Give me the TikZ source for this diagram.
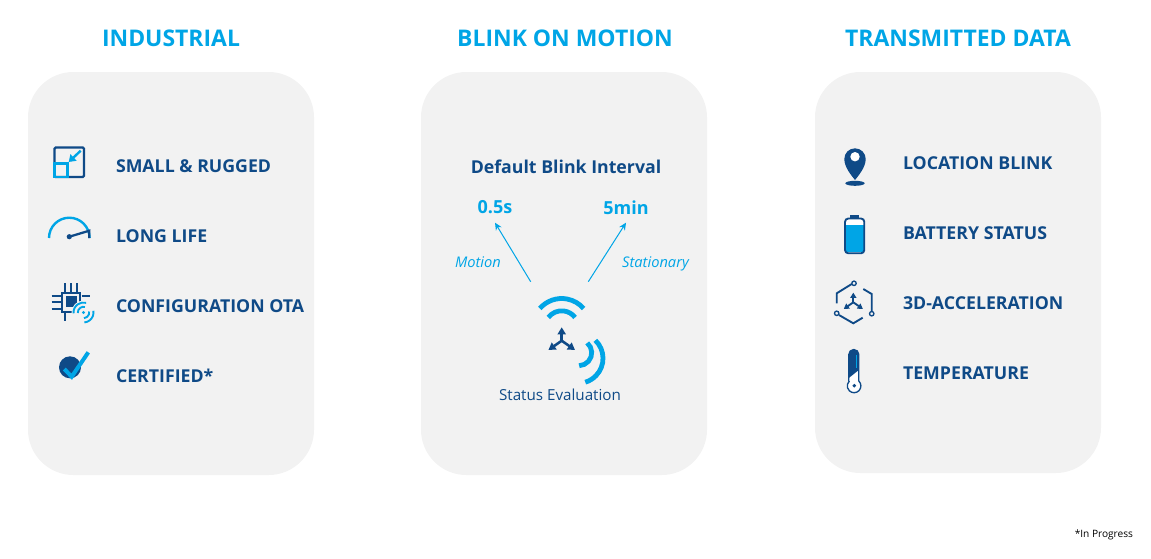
\documentclass[tikz,border=0pt]{standalone}
\usepackage{fontspec}
\setmainfont{Open Sans}
\usetikzlibrary{arrows.meta}
\definecolor{skyblue}{RGB}{0,165,230}
\definecolor{navyblue}{RGB}{15,74,135}
\definecolor{panelgrey}{RGB}{242,242,242}
\tikzset{every picture/.style={line width=0.75pt}}
\tikzset{
  panelbox/.style={fill=panelgrey,rounded corners=34pt},
  titlelabel/.style={text=skyblue,font=\bfseries\fontsize{17.2}{20}\selectfont,inner sep=0pt},
  itemlabel/.style={text=navyblue,anchor=base west,font=\bfseries\fontsize{13.3}{16}\selectfont,inner sep=0pt},
  ratelabel/.style={text=skyblue,font=\bfseries\fontsize{13.5}{16}\selectfont,inner sep=0pt,minimum height=22pt},
  modelabel/.style={text=skyblue,anchor=base,font=\itshape\fontsize{11}{14}\selectfont,inner sep=0pt},
  navyline/.style={draw=navyblue,line width=1.7pt},
  skyline/.style={draw=skyblue,line width=1.8pt},
  wave/.style={draw=skyblue,line width=3.6pt},
  triarrow/.pic={
    \draw [navyblue,-{Stealth[inset=0pt,length=0pt 2.8 0,width=0pt 3.2 0]}] (0,0) -- (0,13.4);
    \draw [navyblue,-{Stealth[inset=0pt,length=0pt 2.8 0,width=0pt 3.2 0]}] (0,0) -- (-13.3,-9.3);
    \draw [navyblue,-{Stealth[inset=0pt,length=0pt 2.8 0,width=0pt 3.2 0]}] (0,0) -- (13.3,-9.3);
  }
}
\begin{document}
\begin{tikzpicture}[x=0.75pt,y=0.75pt,yscale=-1,xscale=1]
\useasboundingbox (0,0) rectangle (1151,558);

% Panels
\fill [panelbox] (28,72) rectangle (314,475);
\fill [panelbox] (421,72) rectangle (707,475);
\fill [panelbox] (815,72) rectangle (1101,473);

% Text Node
\node [titlelabel] (industrial) at (171,38.5) {INDUSTRIAL};
\node [titlelabel] (blink) at (565,38.5) {BLINK ON MOTION};
\node [titlelabel] (transmitted) at (958,38.5) {TRANSMITTED DATA};
% Text Node
\node [itemlabel] (rugged) at (115.5,172.5) {SMALL \& RUGGED};
\node [itemlabel] (life) at (115.5,242.5) {LONG LIFE};
\node [itemlabel] (config) at (115.5,312.5) {CONFIGURATION OTA};
\node [itemlabel] (certified) at (115.5,382.5) {CERTIFIED*};
% Text Node
\node [itemlabel] (location) at (902.5,169.5) {LOCATION BLINK};
\node [itemlabel] (battery) at (902.5,239.5) {BATTERY STATUS};
\node [itemlabel] (accel) at (902.5,309.5) {3D-ACCELERATION};
\node [itemlabel] (temperature) at (902.5,379.5) {TEMPERATURE};
% Text Node
\node [text=navyblue,font=\bfseries\fontsize{13.3}{16}\selectfont,inner sep=0pt] (interval) at (566,166.5) {Default Blink Interval};
\node [ratelabel] (fastrate) at (495,207.5) {0.5s};
\node [ratelabel] (slowrate) at (626,207.5) {5min};
\node [modelabel] (motion) at (478,267) {Motion};
\node [modelabel] (stationary) at (655.5,267) {Stationary};
\node [text=navyblue,font=\fontsize{11.4}{14}\selectfont,inner sep=0pt] (status) at (560,394.5) {Status Evaluation};
\node [text=black,font=\fontsize{7.6}{10}\selectfont,anchor=east,inner sep=0pt] (progress) at (1133.5,535) {*In Progress};

% Arrows
\coordinate (motiontail) at (530.7,281.7);
\coordinate (stationarytail) at (588.3,281.7);
\draw [skyblue,-{Stealth[length=5.5pt,width=5pt]}] (motiontail) -- (fastrate.south);
\draw [skyblue,-{Stealth[length=5.5pt,width=5pt]}] (stationarytail) -- (slowrate.south);

% Status waves
\draw [wave] (561.7,327.5) ++(-139:29) arc (-139:-41:29);
\draw [wave] (561.7,327.5) ++(-143:16.7) arc (-143:-37:16.7);
\draw [wave] (578,358.3) ++(-46:25) arc (-46:73:25);
\draw [wave] (578.7,352.7) ++(-49:13) arc (-49:88:13);
\pic [line width=1.9pt] at (561.7,340.7) {triarrow};

% Small and rugged
\draw [navyline,rounded corners=1pt] (54.5,147.5) rectangle (84,177);
\draw [skyline] (54.5,163.5) rectangle (67.5,177);
\draw [skyline,-{Stealth[inset=0pt,length=5pt,width=6.5pt]}] (80.7,150.7) -- (68.7,162);

% Long life
\draw [skyline] (49,238) arc (180:360:20.3);
\draw [navyline] (69.3,236.7) -- (89.3,230.7) -- (89.3,238);
\fill [navyblue] (69.3,236.7) circle (2.6);

% Configuration
\fill [navyblue] (65.7,296) rectangle (76.7,307.3);
\draw [navyline] (62.3,292.7) rectangle (80,311.7);
\draw [navyline] (65,283.3) -- (65,291.7) (71,283.3) -- (71,291.7) (77,283.3) -- (77,291.7);
\draw [navyline] (51.7,295.7) -- (61,295.7) (51.7,302.3) -- (61,302.3) (51.7,309.3) -- (61,309.3);
\draw [navyline] (81.7,295.7) -- (90,295.7) (65,312.7) -- (65,320.7);
\fill [panelgrey] (83.5,312.5) circle (12);
\draw [skyline,line width=1.4pt] (83.5,312.5) ++(175:10) arc (175:285:10);
\draw [skyline,line width=1.4pt] (83.5,312.5) ++(175:5.7) arc (175:285:5.7);
\draw [skyline,line width=1.4pt] (83.5,312.5) ++(-10:10) arc (-10:85:10);
\draw [skyline,line width=1.4pt] (83.5,312.5) ++(-10:5.7) arc (-10:85:5.7);
\fill [skyblue] (83.5,312.5) circle (1.7);

% Certified
\fill [navyblue] (70,367.3) circle (11);
\draw [draw=skyblue,line width=3pt] (64.3,369) -- (71.7,376.7) -- (88.3,352.3);

% Location
\fill [navyblue] (844.3,159) arc (180:360:10.7) .. controls (865.7,167) and (859,175) .. (855,180) .. controls (851,175) and (844.3,167) .. (844.3,159) -- cycle;
\fill [white] (855,156.7) circle (4.7);
\fill [navyblue] (855,183.3) ellipse (9.7 and 2.5);

% Battery
\fill [navyblue] (850,215) rectangle (859.3,218.5);
\fill [white] (845,218.5) rectangle (864.3,226);
\fill [skyblue] (845,225) rectangle (864.3,252);
\draw [navyline,line width=1.4pt,rounded corners=2.5pt] (845,218.5) rectangle (864.3,253.3);

% Acceleration
\draw [navyline,line width=1.4pt] (836.7,303.3) -- (836.7,293.3) -- (851.7,284);
\draw [navyline,line width=1.4pt] (863.3,289) -- (871.7,294) -- (871.7,311.7);
\draw [navyline,line width=1.4pt] (839,315) -- (853.3,323.3) -- (862.7,317.7);
\draw [navyblue,line width=1pt,fill=panelgrey] (854,283.3) circle (2.2);
\draw [navyblue,line width=1pt,fill=panelgrey] (871.7,313.7) circle (2.2);
\draw [navyblue,line width=1pt,fill=panelgrey] (836.7,313.3) circle (2.2);
\pic [scale=0.72,line width=1.4pt] at (853.3,302.3) {triarrow};

% Temperature
\draw [navyblue,line width=1pt,fill=white] (848.8,381) -- (848.8,354.5) arc (180:360:5) -- (858.8,381) arc (-46:226:6.8);
\fill [navyblue] (848.8,378) -- (848.8,354.5) arc (180:360:5) -- (858.8,370) -- cycle;
\fill [navyblue] (854.3,385.7) circle (1.9);
\draw [skyblue,line width=0.5pt] (856.5,355) -- (856.5,368);
\end{tikzpicture}
\end{document}
